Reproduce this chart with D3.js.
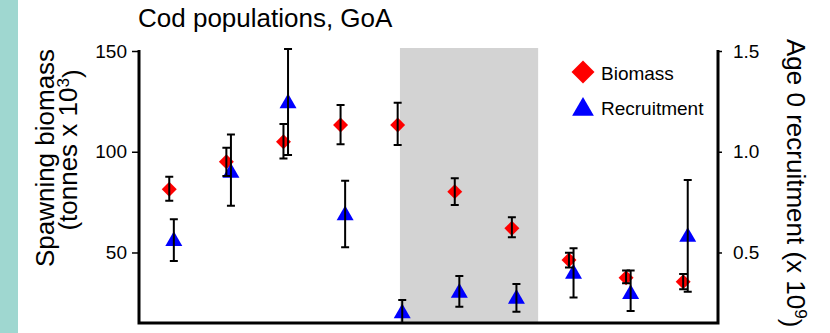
<!DOCTYPE html>
<html>
<head>
<meta charset="utf-8">
<script src="https://cdn.jsdelivr.net/npm/d3@7"></script>
<style>
  html, body { margin: 0; padding: 0; background: #ffffff; }
  svg { display: block; }
  text { font-family: "Liberation Sans", Arial, sans-serif; fill: #000; }
</style>
</head>
<body>
<svg id="chart" width="830" height="333"></svg>
<script>
// Gulf of Alaska cod: spawning biomass (thousand tonnes) and age-0 recruitment (billions)
const years = [2010, 2011, 2012, 2013, 2014, 2015, 2016, 2017, 2018, 2019];
const biomass   = [81.4, 95.0, 105.0, 113.3, 113.3, 80.2, 62.0, 46.3, 37.5, 35.5];
const biomassLo = [75.7, 88.0, 96.7, 103.7, 103.4, 73.6, 57.5, 42.6, 34.7, 31.7];
const biomassHi = [87.6, 102.0, 113.8, 123.2, 124.3, 86.8, 67.5, 49.9, 41.0, 39.3];
const recruit   = [0.557, 0.895, 1.24, 0.684, 0.198, 0.300, 0.270, 0.394, 0.294, 0.577];
const recruitLo = [0.458, 0.732, 0.984, 0.526, 0.140, 0.231, 0.206, 0.276, 0.210, 0.305];
const recruitHi = [0.665, 1.086, 1.510, 0.856, 0.264, 0.383, 0.344, 0.521, 0.410, 0.860];
const heatwave  = [2014, 2016.42];
const biomassTicks = [50, 100, 150];
const recruitTicks = [0.5, 1.0, 1.5];

const svg = d3.select("#chart");
const pLeft = 139, pRight = 718, pTop = 51, pBottom = 323;

const x = d3.scaleLinear().domain([2009.43, 2019.57]).range([pLeft, pRight]);
const yB = d3.scaleLinear().domain([15, 150]).range([pBottom, pTop]);
const yR = d3.scaleLinear().domain([0.15, 1.5]).range([pBottom, pTop]);

// side strip
svg.append("rect").attr("x", 0).attr("y", 0).attr("width", 18).attr("height", 333)
  .attr("fill", "#9fd7d0");

svg.append("defs").append("clipPath").attr("id", "plotclip")
  .append("rect").attr("x", pLeft).attr("y", pTop - 4)
  .attr("width", pRight - pLeft).attr("height", pBottom - pTop + 4);

// shaded heatwave period
svg.append("rect")
  .attr("x", x(heatwave[0])).attr("y", 48)
  .attr("width", x(heatwave[1]) - x(heatwave[0])).attr("height", pBottom - 48)
  .attr("fill", "#d3d3d3");

// title
svg.append("text").attr("x", 138).attr("y", 27)
  .style("font-size", "26px").text("Cod populations, GoA");

// axes
const axL = svg.append("g").attr("transform", `translate(${pLeft},0)`)
  .call(d3.axisLeft(yB).tickValues(biomassTicks).tickSize(7).tickPadding(5).tickFormat(d3.format("d")));
const axR = svg.append("g").attr("transform", `translate(${pRight},0)`)
  .call(d3.axisRight(yR).tickValues(recruitTicks).tickSize(4).tickPadding(11).tickFormat(d3.format(".1f")));
[axL, axR].forEach(a => {
  a.select(".domain").remove();
  a.selectAll(".tick line").attr("stroke", "#000").attr("stroke-width", 1.5);
  a.selectAll(".tick text").style("font-size", "19px").attr("font-family", null).attr("fill", "#000");
});

// frame: left, bottom, right
svg.append("path")
  .attr("d", `M${pLeft},${pTop - 1}V${pBottom}H${pRight}V${pTop - 1}`)
  .attr("fill", "none").attr("stroke", "#000").attr("stroke-width", 3);

// axis titles
svg.append("text")
  .attr("transform", `translate(54,158) rotate(-90)`)
  .attr("text-anchor", "middle").style("font-size", "26px")
  .text("Spawning biomass");
const lt2 = svg.append("text")
  .attr("transform", `translate(77,150) rotate(-90)`)
  .attr("text-anchor", "middle").style("font-size", "26px");
lt2.append("tspan").text("(tonnes x 10");
lt2.append("tspan").attr("dy", "-0.45em").style("font-size", "17px").text("3");
lt2.append("tspan").attr("dy", "0.45em").text(")");

const rt = svg.append("text")
  .attr("transform", `translate(787,39) rotate(90)`)
  .attr("text-anchor", "start").style("font-size", "26px");
rt.append("tspan").text("Age 0 recruitment (x 10");
rt.append("tspan").attr("dy", "-0.45em").style("font-size", "17px").text("9");
rt.append("tspan").attr("dy", "0.45em").text(")");

const plot = svg.append("g").attr("clip-path", "url(#plotclip)");
const offB = -0.04, offR = 0.04;

const diamond = d3.symbol().type(d3.symbolSquare).size(112);
const triangle = d3.symbol().type(d3.symbolTriangle).size(125);

plot.selectAll(".bm").data(years).join("path")
  .attr("transform", (d, i) => `translate(${x(d + offB)},${yB(biomass[i])}) rotate(45)`)
  .attr("d", diamond).attr("fill", "#ff0000");

plot.selectAll(".rc").data(years).join("path")
  .attr("transform", (d, i) => `translate(${x(d + offR)},${yR(recruit[i])})`)
  .attr("d", triangle).attr("fill", "#0000ff");

function errorBars(sel, off, lo, hi, y) {
  const g = sel.append("g").attr("stroke", "#000").attr("stroke-width", 2).attr("fill", "none");
  g.selectAll("path").data(years).join("path")
    .attr("d", (d, i) => {
      const cx = x(d + off), y0 = y(lo[i]), y1 = y(hi[i]);
      return `M${cx},${y0}V${y1}M${cx - 4},${y0}H${cx + 4}M${cx - 4},${y1}H${cx + 4}`;
    });
}
errorBars(plot, offB, biomassLo, biomassHi, yB);
errorBars(plot, offR, recruitLo, recruitHi, yR);

// legend
const lg = svg.append("g");
lg.append("path").attr("transform", "translate(583,72) rotate(45)")
  .attr("d", d3.symbol().type(d3.symbolSquare).size(265)).attr("fill", "#ff0000");
lg.append("text").attr("x", 601).attr("y", 79.5).style("font-size", "19px").text("Biomass");
lg.append("path").attr("transform", "translate(583,109.5)")
  .attr("d", d3.symbol().type(d3.symbolTriangle).size(205)).attr("fill", "#0000ff");
lg.append("text").attr("x", 601).attr("y", 115).style("font-size", "19px").text("Recruitment");
</script>
</body>
</html>
